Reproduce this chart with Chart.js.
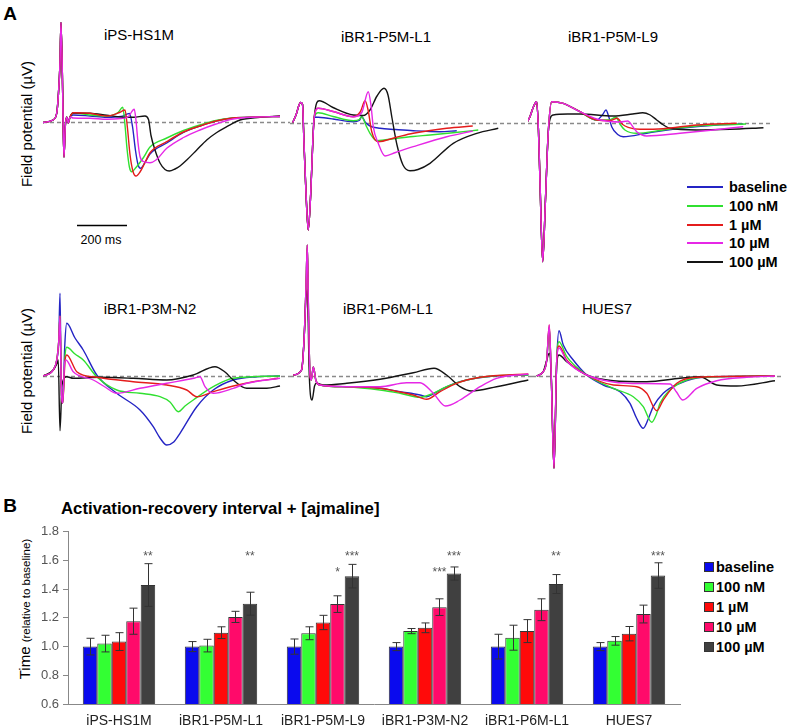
<!DOCTYPE html>
<html>
<head>
<meta charset="utf-8">
<script src="https://cdn.jsdelivr.net/npm/chart.js@4.4.0/dist/chart.umd.min.js"></script>
<style>
  body { margin: 0; background: #fff; font-family: Arial, "Liberation Sans", sans-serif; }
  #page { position: relative; width: 790px; height: 728px; overflow: hidden; }
  canvas { position: absolute; }
  .t { position: absolute; white-space: nowrap; line-height: 1; transform: translate(-50%, -50%); color: #000; }
  .rot { transform: translate(-50%, -50%) rotate(-90deg); }
  .leg { position: absolute; display: flex; align-items: center; height: 18px; font-weight: bold; font-size: 14.5px; white-space: nowrap; }
  .leg .ln { display: inline-block; width: 36px; border-top: 2px solid; margin-right: 6px; }
  .leg .sq { display: inline-block; width: 8px; height: 8px; border: 1px solid #333; margin-right: 2px; }
</style>
</head>
<body>
<div id="page">
  <div class="t" style="left:10px;top:13px;font-weight:bold;font-size:19px;">A</div>
  <div class="t" style="left:139px;top:34px;font-size:15px;">iPS-HS1M</div>
  <div class="t" style="left:386px;top:36px;font-size:15px;">iBR1-P5M-L1</div>
  <div class="t" style="left:613px;top:36px;font-size:15px;">iBR1-P5M-L9</div>
  <div class="t" style="left:150px;top:308px;font-size:15px;">iBR1-P3M-N2</div>
  <div class="t" style="left:388px;top:308px;font-size:15px;">iBR1-P6M-L1</div>
  <div class="t" style="left:607px;top:308px;font-size:15px;">HUES7</div>
  <div class="t rot" style="left:26px;top:124px;font-size:15px;">Field potential (µV)</div>
  <div class="t rot" style="left:26px;top:371px;font-size:15px;">Field potential (µV)</div>
  <div class="t" style="left:101px;top:240px;font-size:12.5px;">200 ms</div>
  <div id="legendA"></div>

  <div class="t" style="left:10px;top:505px;font-weight:bold;font-size:19px;">B</div>
  <div class="t" style="left:61px;top:509px;font-weight:bold;font-size:16.8px;transform:translate(0,-50%);">Activation-recovery interval + [ajmaline]</div>
  <div class="t rot" style="left:25px;top:609px;font-size:15px;">Time <span style="font-size:11.5px;">(relative to baseline)</span></div>
  <div id="legendB"></div>

  <canvas id="hs1m"></canvas>
  <canvas id="p5mL1"></canvas>
  <canvas id="p5mL9"></canvas>
  <canvas id="p3mN2"></canvas>
  <canvas id="p6mL1"></canvas>
  <canvas id="hues7"></canvas>
  <canvas id="arvChart"></canvas>
</div>
<script>
// Conditions (ajmaline concentrations) shared by both panels
const conditions = ['baseline', '100 nM', '1 µM', '10 µM', '100 µM'];
const traceColors = ['#2424c4', '#30e030', '#e41c1c', '#e627e6', '#141414'];
const barColors = ['#0a0aee', '#33ff33', '#ff0a0a', '#ff0a6a', '#404040'];

// ---- Panel A: field potential traces, [time ms, potential µV] ----
const hs1mSpike = [[-72,0],[-32,25],[-17,95],[-11,260],[-4,595],[0,1000],[7,260],[9,-75],[12,-345],[17,-45],[23,55],[29,-5],[36,55]];
const hs1mBase = [[49,75],[116,65],[183,52],[240,60],[274,90],[286,-40],[298,-280],[308,-420],[318,-458],[336,-400],[356,-315],[423,-205],[490,-100],[556,-35],[620,15],[688,45],[780,55],[876,60]];
const hs1m100nM = [[49,95],[116,75],[183,65],[228,100],[247,152],[256,-25],[264,-260],[274,-450],[283,-492],[300,-450],[330,-350],[356,-245],[423,-155],[490,-80],[556,-25],[620,20],[688,45],[780,55],[876,60]];
const hs1m1uM = [[49,98],[116,92],[183,65],[234,100],[256,125],[266,-60],[276,-320],[288,-490],[300,-535],[316,-495],[336,-400],[356,-302],[423,-192],[490,-95],[556,-35],[620,15],[688,45],[780,55],[876,60]];
const hs1m10uM = [[49,45],[116,42],[183,32],[240,40],[268,55],[293,132],[300,20],[308,-200],[316,-340],[330,-390],[356,-402],[380,-375],[423,-258],[490,-150],[556,-75],[620,-15],[688,35],[780,55],[876,60]];
const hs1m100uM = [[49,95],[116,92],[183,72],[240,55],[290,52],[336,65],[350,30],[360,-130],[376,-275],[396,-405],[416,-470],[433,-485],[456,-465],[476,-435],[503,-375],[543,-275],[583,-175],[623,-100],[663,-42],[716,25],[796,52],[876,65]];

const p5mL1Spike = [[-61,0],[-48,75],[-30,200],[-22,180],[-16,-205],[-8,-705],[1,-1075],[11,-705],[19,-205],[25,55]];
const p5mL1Base = [[41,52],[100,35],[181,8],[205,20],[215,58],[230,0],[248,-35],[288,-58],[350,-70],[421,-82],[528,-92],[595,-82]];
const p5mL1100nM = [[41,98],[100,60],[181,18],[205,30],[215,58],[232,-30],[248,-108],[275,-182],[355,-158],[421,-140],[488,-125],[590,-100],[681,-75]];
const p5mL11uM = [[41,142],[100,110],[181,58],[210,110],[228,218],[240,130],[255,-92],[281,-192],[350,-150],[421,-108],[555,-58],[659,-35]];
const p5mL110uM = [[41,142],[100,110],[181,58],[215,100],[241,308],[252,170],[261,-42],[281,-208],[308,-335],[350,-300],[421,-242],[555,-142],[659,-85]];
const p5mL1100uM = [[45,218],[100,150],[181,75],[221,70],[248,125],[276,265],[304,342],[320,275],[336,45],[356,-225],[380,-425],[408,-482],[440,-470],[488,-408],[581,-208],[675,-108],[761,-58]];

const p5mL9Spike = [[-63,0],[-51,58],[-39,145],[-24,208],[-17,-75],[-11,-575],[0,-1392],[11,-775],[22,-108]];
const p5mL9Base = [[36,208],[82,192],[149,108],[216,25],[240,80],[253,125],[264,60],[276,-42],[300,-120],[322,-142],[416,-108],[549,-58],[696,-25],[802,-15]];
const p5mL9100nM = [[36,208],[82,192],[149,108],[216,25],[265,25],[293,52],[310,-20],[329,-75],[376,-108],[482,-75],[616,-35],[813,-15]];
const p5mL91uM = [[36,208],[82,192],[149,108],[216,25],[270,20],[298,42],[320,-20],[342,-48],[389,-68],[482,-62],[616,-25],[776,-8]];
const p5mL910uM = [[36,208],[82,192],[149,108],[216,35],[270,10],[310,5],[340,15],[360,-40],[376,-92],[416,-135],[549,-108],[682,-75],[802,-42]];
const p5mL9100uM = [[30,40],[42,75],[100,85],[149,85],[282,65],[360,85],[400,98],[430,75],[456,25],[480,-20],[509,-58],[616,-75],[749,-68],[883,-52]];

const p3mN2Pre = [[-67,0],[-27,60],[-13,160],[-5,350]];
const p3mN2Base = [[0,827],[5,-100],[11,-270],[19,300],[27,527],[60,380],[93,260],[147,10],[227,-173],[320,-340],[373,-507],[400,-620],[427,-690],[455,-660],[480,-573],[547,-307],[613,-140],[693,-40],[787,-7],[880,0]];
const p3mN2100nM = [[0,600],[5,-100],[11,-270],[20,200],[27,287],[60,220],[93,160],[147,-7],[227,-140],[320,-173],[400,-207],[440,-260],[473,-357],[500,-300],[533,-240],[613,-107],[693,-23],[880,0]];
const p3mN21uM = [[0,600],[5,-100],[11,-270],[20,150],[27,210],[67,43],[147,-13],[293,-57],[427,-90],[507,-140],[547,-207],[613,-157],[693,-100],[773,-57],[873,-23]];
const p3mN210uM = [[0,600],[5,-100],[11,-270],[18,120],[24,160],[53,43],[133,-40],[180,-110],[227,-173],[320,-123],[427,-73],[540,-20],[560,-7],[580,-107],[613,-173],[693,-123],[747,-73],[880,-23]];
const p3mN2100uM = [[-67,0],[-27,60],[-13,120],[-7,160],[0,-547],[8,-90],[27,-7],[53,-23],[160,-13],[293,-23],[427,-40],[533,10],[620,93],[660,40],[693,-40],[747,-123],[827,-123],[880,-100]];

const p6mL1Spike = [[-56,10],[-23,60],[-13,360],[-5,900],[0,1310],[5,600],[11,0],[16,-40],[24,90],[35,-50],[51,-90]];
const p6mL1Base = [[158,-107],[291,-123],[371,-157],[451,-190],[477,-207],[510,-170],[544,-123],[611,-57],[717,-7],[884,10]];
const p6mL1100nM = [[158,-110],[291,-140],[371,-173],[451,-213],[504,-173],[557,-107],[637,-40],[740,0],[884,10]];
const p6mL11uM = [[158,-107],[291,-123],[371,-160],[424,-190],[477,-233],[531,-157],[597,-73],[691,-13],[884,20]];
const p6mL110uM = [[158,-107],[291,-107],[397,-67],[451,-67],[504,-173],[553,-300],[611,-240],[691,-107],[757,-23],[884,20]];
const p6mL1100uM = [[-56,10],[-23,60],[-13,360],[-5,800],[0,860],[8,0],[19,-240],[29,-100],[37,-73],[64,-90],[158,-73],[291,-33],[424,33],[507,77],[557,10],[611,-107],[657,-150],[757,-107],[884,-40]];

const hues7Pre = [[-69,0],[-43,43],[-29,160]];
const hues7Base = [[-19,480],[-11,0],[0,-923],[11,160],[20,453],[37,310],[77,160],[131,10],[197,-90],[264,-157],[304,-273],[330,-420],[357,-523],[377,-430],[397,-307],[437,-173],[504,-73],[597,-13],[884,0]];
const hues7100nM = [[-19,480],[-11,0],[0,-923],[11,160],[20,343],[51,193],[131,10],[237,-123],[317,-207],[357,-307],[391,-463],[410,-380],[424,-273],[464,-140],[531,-40],[620,-10],[884,0]];
const hues71uM = [[-19,510],[-11,0],[0,-923],[11,160],[20,300],[51,160],[131,10],[237,-90],[331,-107],[371,-173],[411,-347],[437,-240],[491,-73],[571,-13],[884,0]];
const hues710uM = [[-19,510],[-11,0],[0,-923],[11,160],[20,280],[51,150],[131,10],[237,-60],[350,-75],[464,-80],[490,-160],[515,-240],[571,-123],[651,-47],[771,-13],[884,0]];
const hues7100uM = [[-19,227],[-11,0],[0,-923],[11,120],[20,210],[51,143],[131,10],[237,-47],[371,-57],[504,-23],[584,-7],[651,-90],[731,-100],[884,-47]];

// ---- Panel B: activation-recovery interval (relative to baseline) ----
const lineNames = ['iPS-HS1M', 'iBR1-P5M-L1', 'iBR1-P5M-L9', 'iBR1-P3M-N2', 'iBR1-P6M-L1', 'HUES7'];
const arvBaseline = [1.00, 1.00, 1.00, 1.00, 1.00, 1.00];
const arv100nM = [1.021, 1.007, 1.093, 1.108, 1.062, 1.040];
const arv1uM = [1.035, 1.097, 1.168, 1.131, 1.108, 1.090];
const arv10uM = [1.177, 1.207, 1.296, 1.275, 1.257, 1.227];
const arv100uM = [1.429, 1.299, 1.491, 1.509, 1.436, 1.495];
const errBaseline = [0.058, 0.035, 0.053, 0.028, 0.086, 0.028];
const err100nM = [0.058, 0.044, 0.045, 0.018, 0.087, 0.030];
const err1uM = [0.062, 0.041, 0.050, 0.034, 0.080, 0.050];
const err10uM = [0.091, 0.039, 0.058, 0.058, 0.076, 0.062];
const err100uM = [0.149, 0.080, 0.082, 0.046, 0.066, 0.089];
const stars10uM = ['', '', '*', '***', '', ''];
const stars100uM = ['**', '**', '***', '***', '**', '***'];
const yTicks = [0.6, 0.8, 1.0, 1.2, 1.4, 1.6, 1.8];

// pixel scale of the traces
const MS_PER_PX = 4;
const UV_PER_PX = 10;
const drawOrder = [4, 3, 1, 0, 2];

// dashed zero line across each trace box
const zeroLine = {
    id: 'zeroLine',
    beforeDatasetsDraw(chart) {
        const { ctx, chartArea: a, scales: { y } } = chart;
        const py = Math.round(y.getPixelForValue(0)) + 0.5;
        ctx.save();
        ctx.strokeStyle = '#8a8a8a';
        ctx.lineWidth = 1.3;
        ctx.setLineDash([4, 3]);
        ctx.beginPath();
        ctx.moveTo(a.left, py);
        ctx.lineTo(a.right, py);
        ctx.stroke();
        ctx.restore();
    }
};

// 200 ms time scale bar (only in first panel)
const scaleBar = {
    id: 'scaleBar',
    afterDatasetsDraw(chart, args, opts) {
        if (!opts.length) return;
        const { ctx, scales: { x, y } } = chart;
        const py = Math.round(y.getPixelForValue(opts.level)) + 0.5;
        ctx.save();
        ctx.strokeStyle = '#000';
        ctx.lineWidth = 1.5;
        ctx.beginPath();
        ctx.moveTo(x.getPixelForValue(opts.start), py);
        ctx.lineTo(x.getPixelForValue(opts.start + opts.length), py);
        ctx.stroke();
        ctx.restore();
    }
};

const makeTrace = (box, lines, bar) => {
    const cv = document.getElementById(box.id);
    cv.width = box.w;
    cv.height = box.h;
    cv.style.left = box.x + 'px';
    cv.style.top = box.y + 'px';
    return new Chart(cv, {
        type: 'line',
        data: {
            datasets: lines.map((pts, i) => ({
                label: conditions[i],
                data: pts.map(p => ({ x: p[0], y: p[1] })),
                borderColor: traceColors[i],
                borderWidth: 1.4,
                pointRadius: 0,
                cubicInterpolationMode: 'monotone',
                order: drawOrder[i],
                clip: false
            }))
        },
        options: {
            responsive: false,
            animation: false,
            events: [],
            layout: { padding: 0 },
            plugins: {
                legend: { display: false },
                tooltip: { enabled: false },
                scaleBar: bar || {}
            },
            scales: {
                x: { type: 'linear', display: false,
                     min: (box.x - box.spikeX) * MS_PER_PX, max: (box.x + box.w - box.spikeX) * MS_PER_PX },
                y: { type: 'linear', display: false,
                     min: (box.zeroY - box.y - box.h) * UV_PER_PX, max: (box.zeroY - box.y) * UV_PER_PX }
            }
        },
        plugins: [zeroLine, scaleBar]
    });
};

makeTrace({ id: 'hs1m', x: 43, y: 15, w: 247, h: 225, spikeX: 61, zeroY: 122.5 },
    [hs1mBase, hs1m100nM, hs1m1uM, hs1m10uM, hs1m100uM].map(t => hs1mSpike.concat(t)),
    { start: 64, length: 200, level: -1025 });
makeTrace({ id: 'p5mL1', x: 290, y: 80, w: 238, h: 160, spikeX: 308, zeroY: 122.5 },
    [p5mL1Base, p5mL1100nM, p5mL11uM, p5mL110uM, p5mL1100uM].map(t => p5mL1Spike.concat(t)));
makeTrace({ id: 'p5mL9', x: 528, y: 85, w: 242, h: 185, spikeX: 542.7, zeroY: 122.5 },
    [p5mL9Base, p5mL9100nM, p5mL91uM, p5mL910uM, p5mL9100uM].map(t => p5mL9Spike.concat(t)));
makeTrace({ id: 'p3mN2', x: 43, y: 280, w: 247, h: 180, spikeX: 60, zeroY: 376 },
    [p3mN2Pre.concat(p3mN2Base), p3mN2Pre.concat(p3mN2100nM), p3mN2Pre.concat(p3mN21uM), p3mN2Pre.concat(p3mN210uM), p3mN2100uM]);
makeTrace({ id: 'p6mL1', x: 290, y: 238, w: 242, h: 180, spikeX: 307.3, zeroY: 376 },
    [p6mL1Spike.concat(p6mL1Base), p6mL1Spike.concat(p6mL1100nM), p6mL1Spike.concat(p6mL11uM), p6mL1Spike.concat(p6mL110uM), p6mL1100uM]);
makeTrace({ id: 'hues7', x: 532, y: 310, w: 250, h: 165, spikeX: 554, zeroY: 376 },
    [hues7Base, hues7100nM, hues71uM, hues710uM, hues7100uM].map(t => hues7Pre.concat(t)));

// legend for panel A
const legendA = document.getElementById('legendA');
conditions.forEach((c, i) => {
    const row = document.createElement('div');
    row.className = 'leg';
    row.style.left = '687px';
    row.style.top = (178 + i * 18.8) + 'px';
    row.innerHTML = `<span class="ln" style="border-color:${traceColors[i]}"></span>${c}`;
    legendA.appendChild(row);
});

// legend for panel B
const legendB = document.getElementById('legendB');
conditions.forEach((c, i) => {
    const row = document.createElement('div');
    row.className = 'leg';
    row.style.left = '704px';
    row.style.top = (558 + i * 20) + 'px';
    row.innerHTML = `<span class="sq" style="background:${barColors[i]}"></span>${c}`;
    legendB.appendChild(row);
});

// error bars and significance stars
const errorsBySeries = [errBaseline, err100nM, err1uM, err10uM, err100uM];
const arvExtras = {
    id: 'arvExtras',
    afterDatasetsDraw(chart) {
        const { ctx, scales: { y } } = chart;
        ctx.save();
        ctx.strokeStyle = '#333';
        ctx.lineWidth = 1;
        chart.data.datasets.forEach((ds, di) => {
            chart.getDatasetMeta(di).data.forEach((bar, ci) => {
                const v = ds.data[ci];
                const e = errorsBySeries[di][ci];
                const x = Math.round(bar.x) + 0.5;
                const top = y.getPixelForValue(v + e);
                const bot = y.getPixelForValue(v - e);
                ctx.beginPath();
                ctx.moveTo(x, top); ctx.lineTo(x, bot);
                ctx.moveTo(x - 4, top); ctx.lineTo(x + 4, top);
                ctx.moveTo(x - 4, bot); ctx.lineTo(x + 4, bot);
                ctx.stroke();
            });
        });
        ctx.fillStyle = '#555';
        ctx.font = '12px Arial, "Liberation Sans", sans-serif';
        ctx.textAlign = 'center';
        ctx.textBaseline = 'alphabetic';
        const m10 = chart.getDatasetMeta(3).data;
        const m100 = chart.getDatasetMeta(4).data;
        stars10uM.forEach((s, ci) => { if (s) ctx.fillText(s, m10[ci].x, y.getPixelForValue(1.54) + 7); });
        stars100uM.forEach((s, ci) => { if (s) ctx.fillText(s, m100[ci].x, y.getPixelForValue(1.65) + 7); });
        ctx.restore();
    }
};

const cvB = document.getElementById('arvChart');
cvB.width = 790;
cvB.height = 208;
cvB.style.left = '0px';
cvB.style.top = '520px';
const seriesB = [arvBaseline, arv100nM, arv1uM, arv10uM, arv100uM];
new Chart(cvB, {
    type: 'bar',
    data: {
        labels: lineNames,
        datasets: seriesB.map((vals, i) => ({
            label: conditions[i],
            data: vals,
            backgroundColor: barColors[i],
            borderColor: '#333',
            borderWidth: 1,
            categoryPercentage: 0.71,
            barPercentage: 1
        }))
    },
    options: {
        responsive: false,
        animation: false,
        events: [],
        layout: { padding: { top: 9, right: 110, left: 0, bottom: 0 } },
        plugins: { legend: { display: false }, tooltip: { enabled: false } },
        scales: {
            x: {
                grid: { display: false, drawTicks: false, tickLength: 0 },
                border: { color: '#888' },
                ticks: { color: '#222', padding: 9, font: { size: 14, family: 'Arial, "Liberation Sans", sans-serif' } },
                afterFit: s => { s.height = 24; }
            },
            y: {
                min: yTicks[0],
                max: yTicks[yTicks.length - 1],
                afterBuildTicks: s => { s.ticks = yTicks.map(v => ({ value: v })); },
                ticks: { color: '#555', padding: 4, callback: v => v.toFixed(1),
                         font: { size: 13, family: 'Arial, "Liberation Sans", sans-serif' } },
                grid: { drawOnChartArea: false, tickLength: 5, color: '#888' },
                border: { color: '#888' },
                afterFit: s => { s.width = 68; }
            }
        }
    },
    plugins: [arvExtras]
});
</script>
</body>
</html>
